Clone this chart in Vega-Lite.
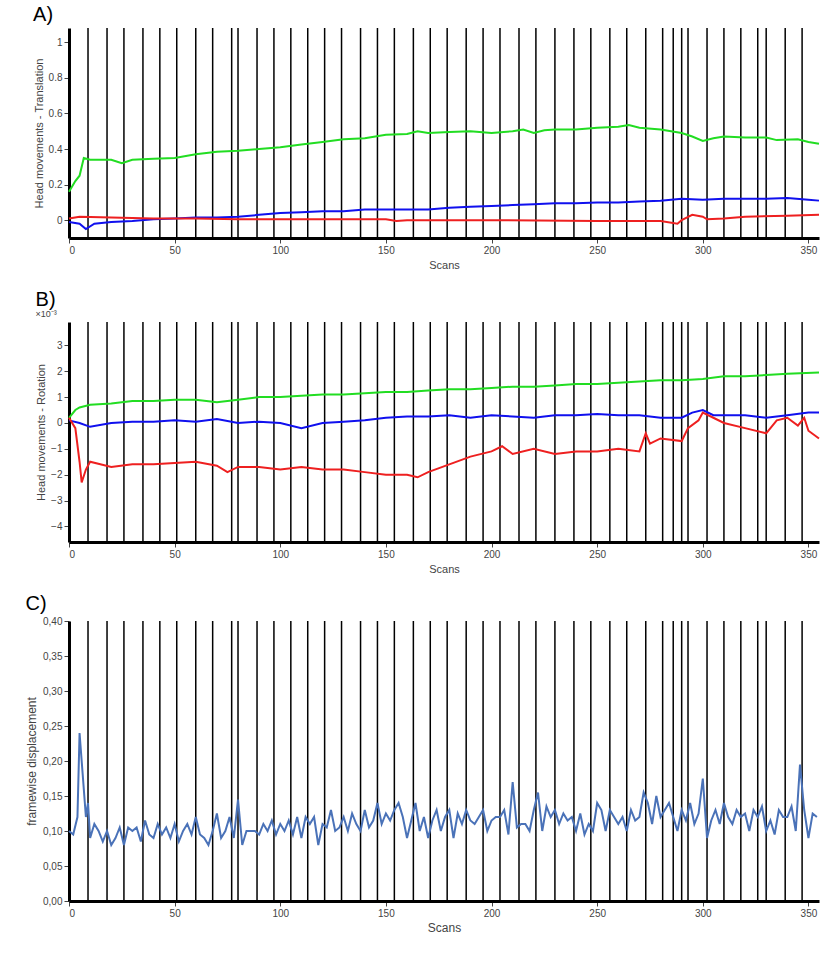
{
  "$schema": "https://vega.github.io/schema/vega-lite/v6.json",
  "background": "white",
  "padding": {"left": 25, "top": 5, "right": 5, "bottom": 5},
  "config": {
    "view": {"stroke": null},
    "font": "Liberation Sans",
    "axis": {"grid": false, "labelColor": "#444", "titleColor": "#444", "labelFontSize": 10, "titleFontSize": 11, "titleFontWeight": "normal", "domainColor": "black", "domainWidth": 3, "tickColor": "#444", "titlePadding": 4},
    "title": {"anchor": "start", "frame": "bounds", "fontSize": 20, "fontWeight": "normal", "offset": 2}
  },
  "datasets": {
    "events": [{"s":9},{"s":18},{"s":26},{"s":35},{"s":43},{"s":51},{"s":60},{"s":68},{"s":77},{"s":80},{"s":89},{"s":97},{"s":105},{"s":113},{"s":121},{"s":129},{"s":138},{"s":146},{"s":154},{"s":163},{"s":171},{"s":179},{"s":188},{"s":196},{"s":204},{"s":213},{"s":221},{"s":230},{"s":239},{"s":247},{"s":256},{"s":264},{"s":273},{"s":281},{"s":286},{"s":290},{"s":293},{"s":302},{"s":310},{"s":318},{"s":326},{"s":330},{"s":339},{"s":347}],
    "trans": [
      {"a":"z","s":0,"v":0.16},{"a":"z","s":3,"v":0.22},{"a":"z","s":5,"v":0.25},{"a":"z","s":7,"v":0.35},{"a":"z","s":10,"v":0.34},{"a":"z","s":15,"v":0.34},{"a":"z","s":20,"v":0.34},{"a":"z","s":25,"v":0.32},{"a":"z","s":30,"v":0.34},{"a":"z","s":40,"v":0.345},{"a":"z","s":50,"v":0.35},{"a":"z","s":60,"v":0.37},{"a":"z","s":70,"v":0.385},{"a":"z","s":80,"v":0.39},{"a":"z","s":90,"v":0.4},{"a":"z","s":100,"v":0.41},{"a":"z","s":110,"v":0.425},{"a":"z","s":120,"v":0.44},{"a":"z","s":130,"v":0.455},{"a":"z","s":140,"v":0.46},{"a":"z","s":150,"v":0.48},{"a":"z","s":160,"v":0.485},{"a":"z","s":165,"v":0.5},{"a":"z","s":170,"v":0.49},{"a":"z","s":180,"v":0.495},{"a":"z","s":190,"v":0.5},{"a":"z","s":200,"v":0.49},{"a":"z","s":210,"v":0.5},{"a":"z","s":215,"v":0.51},{"a":"z","s":220,"v":0.49},{"a":"z","s":225,"v":0.505},{"a":"z","s":230,"v":0.51},{"a":"z","s":240,"v":0.51},{"a":"z","s":250,"v":0.52},{"a":"z","s":260,"v":0.525},{"a":"z","s":265,"v":0.535},{"a":"z","s":270,"v":0.52},{"a":"z","s":280,"v":0.51},{"a":"z","s":285,"v":0.5},{"a":"z","s":290,"v":0.49},{"a":"z","s":295,"v":0.47},{"a":"z","s":300,"v":0.445},{"a":"z","s":305,"v":0.46},{"a":"z","s":310,"v":0.47},{"a":"z","s":320,"v":0.465},{"a":"z","s":330,"v":0.465},{"a":"z","s":335,"v":0.45},{"a":"z","s":345,"v":0.455},{"a":"z","s":350,"v":0.44},{"a":"z","s":355,"v":0.43},
      {"a":"y","s":0,"v":-0.01},{"a":"y","s":5,"v":-0.02},{"a":"y","s":8,"v":-0.05},{"a":"y","s":12,"v":-0.02},{"a":"y","s":20,"v":-0.01},{"a":"y","s":30,"v":-0.005},{"a":"y","s":40,"v":0.005},{"a":"y","s":50,"v":0.01},{"a":"y","s":60,"v":0.015},{"a":"y","s":70,"v":0.015},{"a":"y","s":80,"v":0.02},{"a":"y","s":90,"v":0.03},{"a":"y","s":100,"v":0.04},{"a":"y","s":110,"v":0.045},{"a":"y","s":120,"v":0.05},{"a":"y","s":130,"v":0.05},{"a":"y","s":140,"v":0.06},{"a":"y","s":150,"v":0.06},{"a":"y","s":160,"v":0.06},{"a":"y","s":170,"v":0.06},{"a":"y","s":180,"v":0.07},{"a":"y","s":190,"v":0.075},{"a":"y","s":200,"v":0.08},{"a":"y","s":210,"v":0.085},{"a":"y","s":220,"v":0.09},{"a":"y","s":230,"v":0.095},{"a":"y","s":240,"v":0.095},{"a":"y","s":250,"v":0.1},{"a":"y","s":260,"v":0.1},{"a":"y","s":270,"v":0.105},{"a":"y","s":280,"v":0.11},{"a":"y","s":290,"v":0.12},{"a":"y","s":300,"v":0.115},{"a":"y","s":310,"v":0.12},{"a":"y","s":320,"v":0.12},{"a":"y","s":330,"v":0.12},{"a":"y","s":340,"v":0.125},{"a":"y","s":350,"v":0.115},{"a":"y","s":355,"v":0.11},
      {"a":"x","s":0,"v":0.01},{"a":"x","s":5,"v":0.02},{"a":"x","s":20,"v":0.015},{"a":"x","s":40,"v":0.01},{"a":"x","s":60,"v":0.01},{"a":"x","s":80,"v":0.005},{"a":"x","s":100,"v":0.005},{"a":"x","s":150,"v":0.005},{"a":"x","s":155,"v":-0.005},{"a":"x","s":160,"v":0},{"a":"x","s":200,"v":0},{"a":"x","s":250,"v":-0.005},{"a":"x","s":280,"v":-0.005},{"a":"x","s":288,"v":-0.02},{"a":"x","s":290,"v":0},{"a":"x","s":295,"v":0.03},{"a":"x","s":300,"v":0.02},{"a":"x","s":302,"v":0.005},{"a":"x","s":310,"v":0.01},{"a":"x","s":320,"v":0.02},{"a":"x","s":340,"v":0.025},{"a":"x","s":355,"v":0.03}
    ],
    "rot": [
      {"a":"z","s":0,"v":0.2},{"a":"z","s":3,"v":0.5},{"a":"z","s":5,"v":0.6},{"a":"z","s":10,"v":0.7},{"a":"z","s":20,"v":0.75},{"a":"z","s":30,"v":0.85},{"a":"z","s":40,"v":0.85},{"a":"z","s":50,"v":0.9},{"a":"z","s":60,"v":0.9},{"a":"z","s":70,"v":0.8},{"a":"z","s":80,"v":0.9},{"a":"z","s":90,"v":1.0},{"a":"z","s":100,"v":1.0},{"a":"z","s":110,"v":1.05},{"a":"z","s":120,"v":1.1},{"a":"z","s":130,"v":1.1},{"a":"z","s":140,"v":1.15},{"a":"z","s":150,"v":1.2},{"a":"z","s":160,"v":1.2},{"a":"z","s":170,"v":1.25},{"a":"z","s":180,"v":1.3},{"a":"z","s":190,"v":1.3},{"a":"z","s":200,"v":1.35},{"a":"z","s":210,"v":1.4},{"a":"z","s":220,"v":1.4},{"a":"z","s":230,"v":1.45},{"a":"z","s":240,"v":1.5},{"a":"z","s":250,"v":1.5},{"a":"z","s":260,"v":1.55},{"a":"z","s":270,"v":1.6},{"a":"z","s":280,"v":1.65},{"a":"z","s":290,"v":1.65},{"a":"z","s":300,"v":1.7},{"a":"z","s":310,"v":1.8},{"a":"z","s":320,"v":1.8},{"a":"z","s":330,"v":1.85},{"a":"z","s":340,"v":1.9},{"a":"z","s":355,"v":1.95},
      {"a":"y","s":0,"v":0.1},{"a":"y","s":5,"v":0},{"a":"y","s":10,"v":-0.15},{"a":"y","s":20,"v":0},{"a":"y","s":30,"v":0.05},{"a":"y","s":40,"v":0.05},{"a":"y","s":50,"v":0.1},{"a":"y","s":60,"v":0.05},{"a":"y","s":70,"v":0.15},{"a":"y","s":80,"v":0},{"a":"y","s":90,"v":0.05},{"a":"y","s":100,"v":0},{"a":"y","s":110,"v":-0.2},{"a":"y","s":120,"v":0},{"a":"y","s":130,"v":0.05},{"a":"y","s":140,"v":0.1},{"a":"y","s":150,"v":0.2},{"a":"y","s":160,"v":0.25},{"a":"y","s":170,"v":0.25},{"a":"y","s":180,"v":0.3},{"a":"y","s":190,"v":0.2},{"a":"y","s":200,"v":0.3},{"a":"y","s":210,"v":0.25},{"a":"y","s":220,"v":0.2},{"a":"y","s":230,"v":0.3},{"a":"y","s":240,"v":0.3},{"a":"y","s":250,"v":0.35},{"a":"y","s":260,"v":0.3},{"a":"y","s":270,"v":0.3},{"a":"y","s":280,"v":0.2},{"a":"y","s":290,"v":0.2},{"a":"y","s":295,"v":0.4},{"a":"y","s":300,"v":0.5},{"a":"y","s":305,"v":0.3},{"a":"y","s":310,"v":0.3},{"a":"y","s":320,"v":0.3},{"a":"y","s":330,"v":0.2},{"a":"y","s":340,"v":0.3},{"a":"y","s":350,"v":0.4},{"a":"y","s":355,"v":0.4},
      {"a":"x","s":0,"v":0.2},{"a":"x","s":3,"v":-0.2},{"a":"x","s":5,"v":-1.5},{"a":"x","s":6,"v":-2.3},{"a":"x","s":8,"v":-1.8},{"a":"x","s":10,"v":-1.5},{"a":"x","s":20,"v":-1.7},{"a":"x","s":30,"v":-1.6},{"a":"x","s":40,"v":-1.6},{"a":"x","s":50,"v":-1.55},{"a":"x","s":60,"v":-1.5},{"a":"x","s":70,"v":-1.65},{"a":"x","s":75,"v":-1.9},{"a":"x","s":80,"v":-1.7},{"a":"x","s":90,"v":-1.7},{"a":"x","s":100,"v":-1.8},{"a":"x","s":110,"v":-1.7},{"a":"x","s":120,"v":-1.8},{"a":"x","s":130,"v":-1.8},{"a":"x","s":140,"v":-1.9},{"a":"x","s":150,"v":-2.0},{"a":"x","s":160,"v":-2.0},{"a":"x","s":165,"v":-2.1},{"a":"x","s":170,"v":-1.9},{"a":"x","s":180,"v":-1.6},{"a":"x","s":190,"v":-1.3},{"a":"x","s":200,"v":-1.1},{"a":"x","s":205,"v":-0.9},{"a":"x","s":210,"v":-1.2},{"a":"x","s":220,"v":-1.0},{"a":"x","s":230,"v":-1.2},{"a":"x","s":240,"v":-1.1},{"a":"x","s":250,"v":-1.1},{"a":"x","s":260,"v":-1.0},{"a":"x","s":270,"v":-1.1},{"a":"x","s":273,"v":-0.4},{"a":"x","s":275,"v":-0.8},{"a":"x","s":280,"v":-0.6},{"a":"x","s":290,"v":-0.7},{"a":"x","s":293,"v":-0.2},{"a":"x","s":298,"v":0.1},{"a":"x","s":300,"v":0.4},{"a":"x","s":305,"v":0.2},{"a":"x","s":310,"v":0.0},{"a":"x","s":320,"v":-0.2},{"a":"x","s":330,"v":-0.4},{"a":"x","s":335,"v":0.1},{"a":"x","s":340,"v":0.2},{"a":"x","s":345,"v":-0.1},{"a":"x","s":348,"v":0.2},{"a":"x","s":350,"v":-0.3},{"a":"x","s":355,"v":-0.6}
    ],
    "fd": [
      {"s":0,"v":0.1},{"s":2,"v":0.095},{"s":4,"v":0.12},{"s":5,"v":0.24},{"s":6,"v":0.2},{"s":8,"v":0.12},{"s":9,"v":0.14},{"s":10,"v":0.09},{"s":12,"v":0.11},{"s":14,"v":0.1},{"s":16,"v":0.085},{"s":18,"v":0.1},{"s":20,"v":0.08},{"s":22,"v":0.09},{"s":24,"v":0.105},{"s":26,"v":0.08},{"s":28,"v":0.105},{"s":30,"v":0.1},{"s":32,"v":0.105},{"s":34,"v":0.085},{"s":36,"v":0.115},{"s":38,"v":0.095},{"s":40,"v":0.09},{"s":42,"v":0.11},{"s":44,"v":0.095},{"s":46,"v":0.105},{"s":48,"v":0.09},{"s":50,"v":0.11},{"s":52,"v":0.085},{"s":54,"v":0.1},{"s":56,"v":0.11},{"s":58,"v":0.095},{"s":60,"v":0.12},{"s":62,"v":0.095},{"s":64,"v":0.09},{"s":66,"v":0.08},{"s":68,"v":0.1},{"s":70,"v":0.125},{"s":72,"v":0.09},{"s":74,"v":0.1},{"s":76,"v":0.12},{"s":78,"v":0.09},{"s":80,"v":0.145},{"s":82,"v":0.08},{"s":84,"v":0.1},{"s":86,"v":0.1},{"s":88,"v":0.1},{"s":90,"v":0.095},{"s":92,"v":0.11},{"s":94,"v":0.1},{"s":96,"v":0.115},{"s":98,"v":0.095},{"s":100,"v":0.11},{"s":102,"v":0.1},{"s":104,"v":0.115},{"s":106,"v":0.095},{"s":108,"v":0.12},{"s":110,"v":0.09},{"s":112,"v":0.12},{"s":114,"v":0.11},{"s":116,"v":0.12},{"s":118,"v":0.08},{"s":120,"v":0.11},{"s":122,"v":0.105},{"s":124,"v":0.13},{"s":126,"v":0.1},{"s":128,"v":0.105},{"s":130,"v":0.12},{"s":132,"v":0.1},{"s":134,"v":0.125},{"s":136,"v":0.11},{"s":138,"v":0.1},{"s":140,"v":0.13},{"s":142,"v":0.105},{"s":144,"v":0.115},{"s":146,"v":0.14},{"s":148,"v":0.11},{"s":150,"v":0.125},{"s":152,"v":0.115},{"s":154,"v":0.13},{"s":156,"v":0.14},{"s":158,"v":0.12},{"s":160,"v":0.09},{"s":162,"v":0.115},{"s":164,"v":0.14},{"s":166,"v":0.1},{"s":168,"v":0.12},{"s":170,"v":0.09},{"s":172,"v":0.115},{"s":174,"v":0.13},{"s":176,"v":0.1},{"s":178,"v":0.12},{"s":180,"v":0.13},{"s":182,"v":0.09},{"s":184,"v":0.125},{"s":186,"v":0.11},{"s":188,"v":0.13},{"s":190,"v":0.115},{"s":192,"v":0.11},{"s":194,"v":0.12},{"s":196,"v":0.13},{"s":198,"v":0.1},{"s":200,"v":0.115},{"s":202,"v":0.12},{"s":204,"v":0.12},{"s":206,"v":0.13},{"s":208,"v":0.095},{"s":210,"v":0.17},{"s":212,"v":0.105},{"s":214,"v":0.11},{"s":216,"v":0.11},{"s":218,"v":0.1},{"s":220,"v":0.13},{"s":222,"v":0.155},{"s":224,"v":0.1},{"s":226,"v":0.135},{"s":228,"v":0.12},{"s":230,"v":0.13},{"s":232,"v":0.11},{"s":234,"v":0.125},{"s":236,"v":0.115},{"s":238,"v":0.12},{"s":240,"v":0.1},{"s":242,"v":0.125},{"s":244,"v":0.095},{"s":246,"v":0.11},{"s":248,"v":0.1},{"s":250,"v":0.14},{"s":252,"v":0.13},{"s":254,"v":0.1},{"s":256,"v":0.13},{"s":258,"v":0.12},{"s":260,"v":0.11},{"s":262,"v":0.12},{"s":264,"v":0.1},{"s":266,"v":0.13},{"s":268,"v":0.115},{"s":270,"v":0.12},{"s":272,"v":0.155},{"s":274,"v":0.14},{"s":276,"v":0.11},{"s":278,"v":0.15},{"s":280,"v":0.12},{"s":282,"v":0.13},{"s":284,"v":0.14},{"s":286,"v":0.12},{"s":288,"v":0.1},{"s":290,"v":0.13},{"s":292,"v":0.115},{"s":294,"v":0.14},{"s":296,"v":0.11},{"s":298,"v":0.125},{"s":300,"v":0.175},{"s":302,"v":0.09},{"s":304,"v":0.115},{"s":306,"v":0.13},{"s":308,"v":0.11},{"s":310,"v":0.14},{"s":312,"v":0.12},{"s":314,"v":0.11},{"s":316,"v":0.13},{"s":318,"v":0.12},{"s":320,"v":0.125},{"s":322,"v":0.1},{"s":324,"v":0.13},{"s":326,"v":0.12},{"s":328,"v":0.135},{"s":330,"v":0.1},{"s":332,"v":0.115},{"s":334,"v":0.095},{"s":336,"v":0.13},{"s":338,"v":0.12},{"s":340,"v":0.12},{"s":342,"v":0.135},{"s":344,"v":0.1},{"s":346,"v":0.195},{"s":348,"v":0.13},{"s":350,"v":0.09},{"s":352,"v":0.125},{"s":354,"v":0.12}
    ]
  },
  "vconcat": [
    {
      "title": "A)",
      "width": 750, "height": 210,
      "layer": [
        {"data": {"name": "events"}, "mark": {"type": "rule", "color": "black", "strokeWidth": 1.5},
         "encoding": {"x": {"field": "s", "type": "quantitative", "scale": {"domain": [0, 355], "nice": false}, "axis": {"title": "Scans", "values": [0,50,100,150,200,250,300,350]}}}},
        {"data": {"name": "trans"}, "mark": {"type": "line", "strokeWidth": 2},
         "encoding": {
           "x": {"field": "s", "type": "quantitative"},
           "y": {"field": "v", "type": "quantitative", "scale": {"domain": [-0.1, 1.08], "nice": false}, "axis": {"title": "Head movements - Translation", "values": [0,0.2,0.4,0.6,0.8,1], "format": "~g"}},
           "color": {"field": "a", "type": "nominal", "scale": {"domain": ["x","y","z"], "range": ["#ee2020","#1010ee","#22dd22"]}, "legend": null}
         }}
      ]
    },
    {
      "title": {"text": "B)", "subtitle": "×10⁻³", "subtitleFontSize": 9, "subtitleColor": "#444", "subtitlePadding": 0},
      "width": 750, "height": 220,
      "layer": [
        {"data": {"name": "events"}, "mark": {"type": "rule", "color": "black", "strokeWidth": 1.5},
         "encoding": {"x": {"field": "s", "type": "quantitative", "scale": {"domain": [0, 355], "nice": false}, "axis": {"title": "Scans", "values": [0,50,100,150,200,250,300,350]}}}},
        {"data": {"name": "rot"}, "mark": {"type": "line", "strokeWidth": 2},
         "encoding": {
           "x": {"field": "s", "type": "quantitative"},
           "y": {"field": "v", "type": "quantitative", "scale": {"domain": [-4.6, 3.9], "nice": false}, "axis": {"title": "Head movements - Rotation", "values": [-4,-3,-2,-1,0,1,2,3]}},
           "color": {"field": "a", "type": "nominal", "scale": {"domain": ["x","y","z"], "range": ["#ee2020","#1010ee","#22dd22"]}, "legend": null}
         }}
      ]
    },
    {
      "title": "C)",
      "width": 750, "height": 280,
      "layer": [
        {"data": {"name": "events"}, "mark": {"type": "rule", "color": "black", "strokeWidth": 1.5},
         "encoding": {"x": {"field": "s", "type": "quantitative", "scale": {"domain": [0, 355], "nice": false}, "axis": {"title": "Scans", "titleFontSize": 12, "labelFontSize": 10, "values": [0,50,100,150,200,250,300,350]}}}},
        {"data": {"name": "fd"}, "mark": {"type": "line", "strokeWidth": 2, "color": "#4a72b8"},
         "encoding": {
           "x": {"field": "s", "type": "quantitative"},
           "y": {"field": "v", "type": "quantitative", "scale": {"domain": [0, 0.4], "nice": false}, "axis": {"title": "framewise displacement", "titleFontSize": 12, "labelFontSize": 10, "values": [0,0.05,0.1,0.15,0.2,0.25,0.3,0.35,0.4], "labelExpr": "replace(format(datum.value, '.2f'), '.', ',')"}}
         }}
      ]
    }
  ]
}
